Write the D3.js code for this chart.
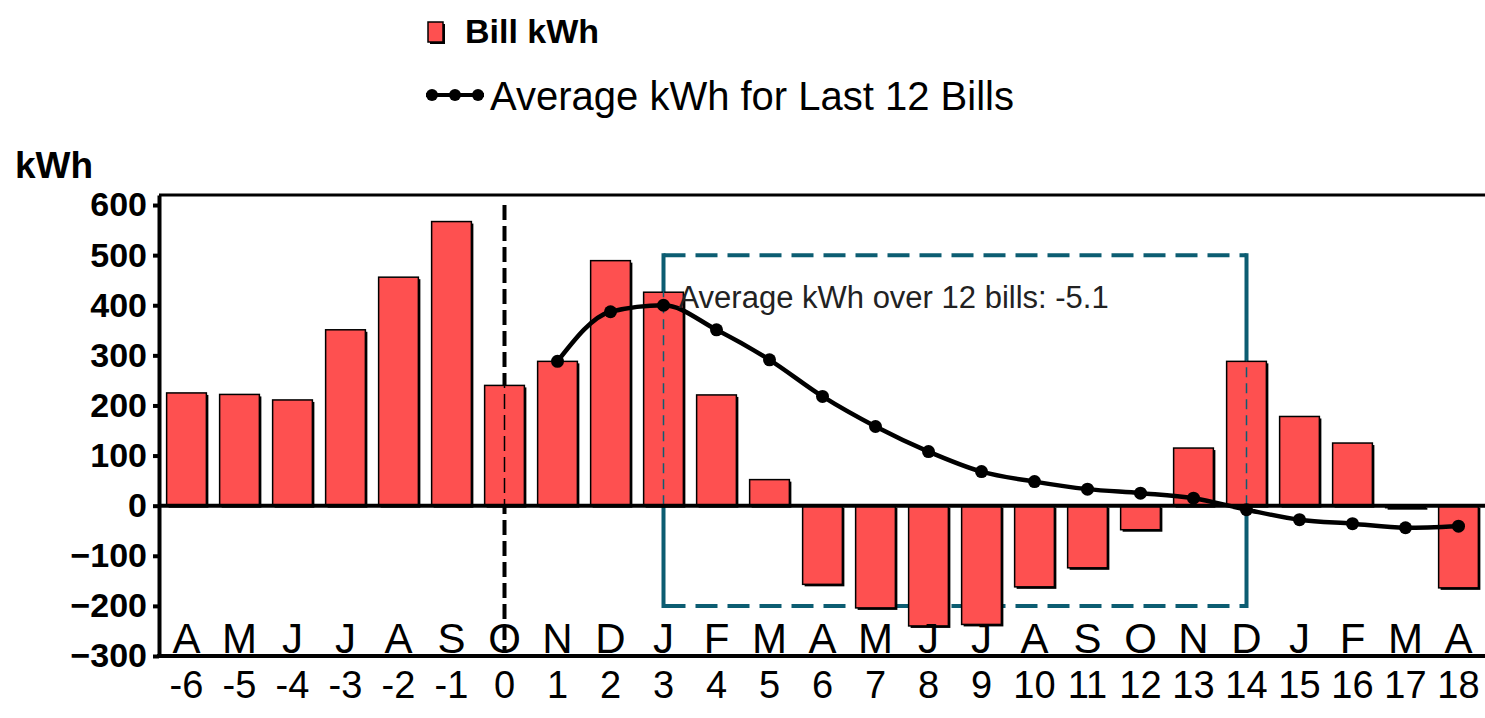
<!DOCTYPE html>
<html lang="en">
<head>
<meta charset="utf-8">
<title>Bill kWh</title>
<script src="https://d3js.org/d3.v7.min.js"></script>
<style>
body{
  margin: 0;
  background: #fff;
}
svg text{
  font-family: "Liberation Sans", Arial, sans-serif;
  fill: #000;
}
.yaxis text{
  font-size: 34px;
  font-weight: bold;
}
.yaxis path, .yaxis line{
  stroke: #000;
  stroke-width: 4;
}
</style>
</head>
<body>
<div id="chart"></div>
<script>
// month letter and bill number for every bar
var months  = ["A","M","J","J","A","S","O","N","D","J","F","M","A","M","J","J","A","S","O","N","D","J","F","M","A"];
var periods = ["-6","-5","-4","-3","-2","-1","0","1","2","3","4","5","6","7","8","9","10","11","12","13","14","15","16","17","18"];
var billKwh = [225, 222, 211, 351, 456, 567, 240, 288, 489, 426, 221, 52, -157, -204, -240, -237, -162, -124, -48, 115, 288, 178, 125, -4, -164];
// running average starts at bill 1
var avgKwh  = [null, null, null, null, null, null, null, 288, 387, 400, 351, 291, 218, 158, 108, 68, 48, 33, 25, 15, -8, -28, -36, -44, -41];
var yTicks  = [-300, -200, -100, 0, 100, 200, 300, 400, 500, 600];

var windowFrom = "3", windowTo = "14", windowTop = 500, windowBottom = -200;
var windowNote = "Average kWh over 12 bills: -5.1";
var startBill = "0";

var W = 1485, H = 718;
var plotLeft = 160, plotRight = 1485, plotTop = 195, plotBottom = 656;

var svg = d3.select("#chart").append("svg")
  .attr("width", W).attr("height", H);

var x = d3.scaleBand().domain(periods).range([plotLeft, plotRight])
  .paddingInner(0.25).paddingOuter(0.125);
var y = d3.scaleLinear().domain([-300, 620]).range([plotBottom, plotTop]);
var cx = function(p){ return x(p) + x.bandwidth()/2; };

var red = "#fe5050", teal = "#0c5d72";

// top frame line
svg.append("line")
  .attr("x1", plotLeft-1).attr("x2", plotRight).attr("y1", y(620)).attr("y2", y(620))
  .attr("stroke", "#000").attr("stroke-width", 3);

// dashed window, under the bars
var win = svg.append("g");
[windowTop, windowBottom].forEach(function(v){
  win.append("line")
    .attr("x1", cx(windowFrom)).attr("x2", cx(windowTo))
    .attr("y1", y(v)).attr("y2", y(v))
    .attr("stroke", teal).attr("stroke-width", 4)
    .attr("stroke-dasharray", "22 10");
});
[windowFrom, windowTo].forEach(function(p){
  win.append("line")
    .attr("x1", cx(p)).attr("x2", cx(p))
    .attr("y1", y(windowTop)-2).attr("y2", y(windowBottom)+2)
    .attr("stroke", teal).attr("stroke-width", 4);
});

// start marker line
svg.append("line")
  .attr("x1", cx(startBill)).attr("x2", cx(startBill))
  .attr("y1", y(600)).attr("y2", y(-290))
  .attr("stroke", "#000").attr("stroke-width", 4)
  .attr("stroke-dasharray", "15 6");

// bars with shadow
var bars = svg.append("g").selectAll("g")
  .data(billKwh)
  .enter().append("g");

bars.append("rect")
  .attr("x", function(d,i){ return x(periods[i]) + 2; })
  .attr("y", function(d){ return y(Math.max(0,d)) + 2; })
  .attr("width", x.bandwidth())
  .attr("height", function(d){ return Math.abs(y(d) - y(0)); })
  .attr("fill", "#000");

bars.append("rect")
  .attr("x", function(d,i){ return x(periods[i]); })
  .attr("y", function(d){ return y(Math.max(0,d)); })
  .attr("width", x.bandwidth())
  .attr("height", function(d){ return Math.abs(y(d) - y(0)); })
  .attr("fill", red)
  .attr("stroke", "#000").attr("stroke-width", 1.5);

// thin dashed lines seen through the bars
svg.append("line")
  .attr("x1", cx(startBill)).attr("x2", cx(startBill))
  .attr("y1", y(600)).attr("y2", y(-290))
  .attr("stroke", "#000").attr("stroke-width", 1.5)
  .attr("stroke-dasharray", "15 6");
[windowFrom, windowTo].forEach(function(p){
  svg.append("line")
    .attr("x1", cx(p)).attr("x2", cx(p))
    .attr("y1", y(windowTop)).attr("y2", y(windowBottom))
    .attr("stroke", teal).attr("stroke-width", 1.5)
    .attr("stroke-dasharray", "10 6");
});

// zero line
svg.append("line")
  .attr("x1", plotLeft-1).attr("x2", plotRight).attr("y1", y(0)).attr("y2", y(0))
  .attr("stroke", "#000").attr("stroke-width", 4);

// average line
var pts = avgKwh.map(function(d,i){ return {p: periods[i], v: d}; })
  .filter(function(d){ return d.v !== null; });

svg.append("path")
  .datum(pts)
  .attr("fill", "none")
  .attr("stroke", "#000").attr("stroke-width", 4.5)
  .attr("d", d3.line()
    .x(function(d){ return cx(d.p); })
    .y(function(d){ return y(d.v); })
    .curve(d3.curveMonotoneX));

svg.append("g").selectAll("circle")
  .data(pts)
  .enter().append("circle")
  .attr("cx", function(d){ return cx(d.p); })
  .attr("cy", function(d){ return y(d.v); })
  .attr("r", 6.5)
  .attr("fill", "#000");

// note inside the window
svg.append("text")
  .attr("x", cx(windowFrom) + 15).attr("y", 308)
  .style("font-size", "31px").style("fill", "#222")
  .text(windowNote);

// month letters sit on the bottom axis
svg.append("g").selectAll("text")
  .data(months)
  .enter().append("text")
  .attr("x", function(d,i){ return cx(periods[i]); })
  .attr("y", plotBottom - 3)
  .attr("text-anchor", "middle")
  .style("font-size", "42px")
  .text(function(d){ return d; });

// bill numbers under the axis
svg.append("g").selectAll("text")
  .data(periods)
  .enter().append("text")
  .attr("x", function(d){ return cx(d); })
  .attr("y", 698)
  .attr("text-anchor", "middle")
  .style("font-size", "38px")
  .text(function(d){ return d; });

// bottom axis line
svg.append("line")
  .attr("x1", plotLeft-3).attr("x2", plotRight).attr("y1", plotBottom).attr("y2", plotBottom)
  .attr("stroke", "#000").attr("stroke-width", 4);

// y axis
svg.append("g")
  .attr("class", "yaxis")
  .attr("transform", "translate(" + (plotLeft-1) + ",0)")
  .call(d3.axisLeft(y).tickValues(yTicks).tickSize(6).tickPadding(6).tickSizeOuter(0));

svg.append("text")
  .attr("x", 15).attr("y", 178)
  .style("font-size", "37px").style("font-weight", "bold")
  .text("kWh");

// legend
var lg = svg.append("g");
lg.append("rect").attr("x", 430).attr("y", 24).attr("width", 15).attr("height", 20).attr("fill", "#000");
lg.append("rect").attr("x", 428).attr("y", 22).attr("width", 15).attr("height", 20)
  .attr("fill", red).attr("stroke", "#000").attr("stroke-width", 1.5);
lg.append("text").attr("x", 465).attr("y", 43)
  .style("font-size", "34px").style("font-weight", "bold")
  .text("Bill kWh");

lg.append("line").attr("x1", 426).attr("x2", 484).attr("y1", 95).attr("y2", 95)
  .attr("stroke", "#000").attr("stroke-width", 4);
lg.selectAll("circle.lg")
  .data([432, 455, 478])
  .enter().append("circle")
  .attr("cx", function(d){ return d; }).attr("cy", 95).attr("r", 6).attr("fill", "#000");
lg.append("text").attr("x", 490).attr("y", 110)
  .style("font-size", "40px")
  .text("Average kWh for Last 12 Bills");
</script>
</body>
</html>
